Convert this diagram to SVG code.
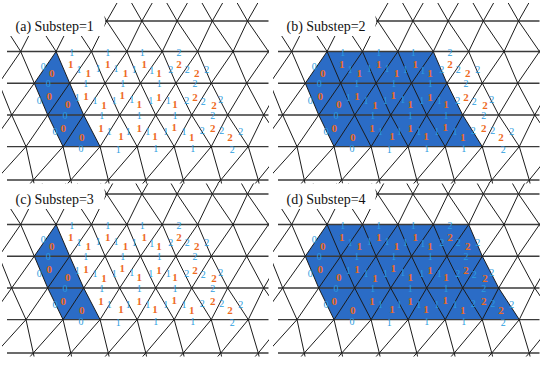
<svg xmlns="http://www.w3.org/2000/svg" xmlns:xlink="http://www.w3.org/1999/xlink" width="550" height="367" viewBox="0 0 550 367">
<style>
.dl{fill:none;stroke:#1c1c1c;stroke-width:1}
.hl{fill:none;stroke:#3a3a3a;stroke-width:1.4}
.fl{fill:#2b6cc6;stroke:none}
.o{font-family:"Liberation Serif","Times New Roman",serif;font-size:11px;font-weight:bold;fill:#ee6a1f;text-anchor:middle}
.b{font-family:"Liberation Serif","Times New Roman",serif;font-size:10px;fill:#2a9de0;text-anchor:middle}
.t{font-family:"Liberation Serif","Times New Roman",serif;font-size:14px;fill:#111}
</style>
<defs>
<clipPath id="clipTop" clipPathUnits="userSpaceOnUse"><rect x="2" y="3" width="267" height="180.5"/></clipPath>
<clipPath id="clipBot" clipPathUnits="userSpaceOnUse"><rect x="2" y="10.5" width="267" height="173"/></clipPath>
<g id="mesh">
<g class="hl">
<line x1="105" y1="21" x2="268.5" y2="21"/>
<line x1="7" y1="51.5" x2="268.5" y2="51.5"/>
<line x1="7" y1="83.2" x2="268.5" y2="83.2"/>
<line x1="7" y1="115" x2="268.5" y2="115"/>
<line x1="7" y1="146.6" x2="268.5" y2="146.6"/>
<line x1="7" y1="180" x2="268.5" y2="180"/>
</g>
<g class="dl">
<polyline points="-46.1,0 -34.1,21 -14.7,51.5 -1.1,83.2 11.7,115 26,146.6 33.3,180 34.6,186"/>
<polyline points="-10.9,0 1.1,21 20.7,51.5 34.3,83.2 47.7,115 63.05,146.6 70.8,180 72.1,186"/>
<polyline points="24.3,0 36.3,21 56.1,51.5 69.7,83.2 83.7,115 100.1,146.6 108.3,180 109.6,186"/>
<polyline points="59.5,0 71.5,21 91.5,51.5 105.1,83.2 119.7,115 137.15,146.6 145.8,180 147.1,186"/>
<polyline points="94.7,0 106.7,21 126.9,51.5 140.5,83.2 155.7,115 174.2,146.6 183.3,180 184.6,186"/>
<polyline points="129.9,0 141.9,21 162.3,51.5 175.9,83.2 191.7,115 211.25,146.6 220.8,180 222.1,186"/>
<polyline points="165.1,0 177.1,21 197.7,51.5 211.3,83.2 227.7,115 248.3,146.6 258.3,180 259.6,186"/>
<polyline points="200.3,0 212.3,21 233.1,51.5 246.7,83.2 263.7,115 285.35,146.6 295.8,180"/>
<polyline points="235.5,0 247.5,21 268.5,51.5 282.1,83.2"/>
<polyline points="48.3,0 36.3,21 20.7,51.5 -1.1,83.2"/>
<polyline points="83.5,0 71.5,21 56.1,51.5 34.3,83.2 11.7,115 -11.05,146.6"/>
<polyline points="118.7,0 106.7,21 91.5,51.5 69.7,83.2 47.7,115 26,146.6 -4.2,180"/>
<polyline points="153.9,0 141.9,21 126.9,51.5 105.1,83.2 83.7,115 63.05,146.6 33.3,180 28,186"/>
<polyline points="189.1,0 177.1,21 162.3,51.5 140.5,83.2 119.7,115 100.1,146.6 70.8,180 65.5,186"/>
<polyline points="224.3,0 212.3,21 197.7,51.5 175.9,83.2 155.7,115 137.15,146.6 108.3,180 103,186"/>
<polyline points="259.5,0 247.5,21 233.1,51.5 211.3,83.2 191.7,115 174.2,146.6 145.8,180 140.5,186"/>
<polyline points="294.7,0 282.7,21 268.5,51.5 246.7,83.2 227.7,115 211.25,146.6 183.3,180 178,186"/>
<polyline points="303.9,51.5 282.1,83.2 263.7,115 248.3,146.6 220.8,180 215.5,186"/>
<polyline points="299.7,115 285.35,146.6 258.3,180 253,186"/>
</g>
<rect x="0" y="0" width="104.5" height="36" fill="#fff"/>
</g>
</defs>
<rect width="550" height="367" fill="#fff"/>

<g id="panel-a">
<polygon class="fl" points="56.1,51.5 34.3,83.2 47.7,115 63.05,146.6 100.1,146.6 83.7,115 69.7,83.2"/>
<g clip-path="url(#clipTop)"><use xlink:href="#mesh"/></g>
<text class="t" x="15.5" y="30.7">(a) Substep=1</text>
<g class="o">
<text x="51.7" y="76.5">0</text><text x="70.7" y="67.8">1</text><text x="88.3" y="76.5">1</text><text x="107.7" y="67.8">1</text><text x="125.5" y="76.8">1</text><text x="144.3" y="67.8">1</text><text x="159" y="76.5">1</text><text x="179" y="68.1">2</text><text x="196.7" y="76.5">2</text>
<text x="49.3" y="99.8">0</text><text x="67.7" y="107.8">0</text><text x="86" y="99.5">1</text><text x="104" y="109.3">1</text><text x="122.3" y="99.1">1</text><text x="139.3" y="107.8">1</text><text x="159" y="100.5">1</text><text x="175" y="107.8">1</text><text x="195" y="100.5">2</text><text x="214" y="108.8">2</text>
<text x="63.3" y="132.1">0</text><text x="81.7" y="140.5">0</text><text x="101" y="132.1">1</text><text x="121" y="140">1</text><text x="139.3" y="131.5">1</text><text x="155" y="139.5">1</text><text x="174.3" y="131.1">1</text><text x="191.7" y="140.5">1</text><text x="212.7" y="131.5">2</text><text x="230" y="140.5">2</text>
</g>
<g class="b">
<text x="71.7" y="55.5">1</text><text x="107.7" y="55.5">1</text><text x="142.3" y="55.5">1</text><text x="179" y="55.5">2</text>
<text x="43.3" y="70.2">0</text><text x="79" y="72.5">1</text><text x="98.3" y="71.8">1</text><text x="116" y="71.8">1</text><text x="134.3" y="72.5">1</text><text x="151.7" y="73.5">1</text><text x="170.7" y="72.5">2</text><text x="187.3" y="72.8">2</text><text x="206.7" y="72.8">2</text>
<text x="48.3" y="86.8">0</text><text x="85.7" y="86.8">1</text><text x="122.7" y="86.8">1</text><text x="159.3" y="86.8">1</text><text x="195" y="86.8">2</text>
<text x="39.3" y="103.5">0</text><text x="77.3" y="101.2">1</text><text x="95" y="103.5">1</text><text x="114.3" y="103.5">1</text><text x="131.7" y="103">1</text><text x="150.7" y="103.5">1</text><text x="168.3" y="103.5">1</text><text x="186.7" y="103.5">2</text><text x="203.3" y="104.5">2</text><text x="220.7" y="102.5">2</text>
<text x="65" y="118.5">0</text><text x="101.7" y="118.5">1</text><text x="139.3" y="118.5">1</text><text x="175" y="118.5">1</text><text x="212.7" y="118.5">2</text>
<text x="55" y="135.2">0</text><text x="109.3" y="134.5">1</text><text x="128.3" y="134.5">1</text><text x="147.7" y="135.2">1</text><text x="165.7" y="135.2">1</text><text x="184" y="134.5">1</text><text x="202.3" y="133.5">2</text><text x="221.7" y="133.5">2</text><text x="240.7" y="134.5">2</text>
<text x="81" y="152">0</text><text x="118.3" y="152.5">1</text><text x="155.7" y="152">1</text><text x="192.7" y="152">1</text><text x="232.3" y="152.5">2</text>
</g>
</g>

<g id="panel-b" transform="translate(271,0)">
<polygon class="fl" points="56.1,51.5 162.3,51.5 175.9,83.2 191.7,115 211.25,146.6 63.05,146.6 47.7,115 34.3,83.2"/>
<g clip-path="url(#clipTop)"><use xlink:href="#mesh"/></g>
<text class="t" x="15.5" y="30.7">(b) Substep=2</text>
<g class="o">
<text x="51.7" y="76.5">0</text><text x="70.7" y="67.8">1</text><text x="88.3" y="76.5">1</text><text x="107.7" y="67.8">1</text><text x="125.5" y="76.8">1</text><text x="144.3" y="67.8">1</text><text x="159" y="76.5">1</text><text x="179" y="68.1">2</text><text x="196.7" y="76.5">2</text>
<text x="49.3" y="99.8">0</text><text x="67.7" y="107.8">0</text><text x="86" y="99.5">1</text><text x="104" y="109.3">1</text><text x="122.3" y="99.1">1</text><text x="139.3" y="107.8">1</text><text x="159" y="100.5">1</text><text x="175" y="107.8">1</text><text x="195" y="100.5">2</text><text x="214" y="108.8">2</text>
<text x="63.3" y="132.1">0</text><text x="81.7" y="140.5">0</text><text x="101" y="132.1">1</text><text x="121" y="140">1</text><text x="139.3" y="131.5">1</text><text x="155" y="139.5">1</text><text x="174.3" y="131.1">1</text><text x="191.7" y="140.5">1</text><text x="212.7" y="131.5">2</text><text x="230" y="140.5">2</text>
</g>
<g class="b">
<text x="71.7" y="55.5">1</text><text x="107.7" y="55.5">1</text><text x="142.3" y="55.5">1</text><text x="179" y="55.5">2</text>
<text x="43.3" y="70.2">0</text><text x="79" y="72.5">1</text><text x="98.3" y="71.8">1</text><text x="116" y="71.8">1</text><text x="134.3" y="72.5">1</text><text x="151.7" y="73.5">1</text><text x="170.7" y="72.5">2</text><text x="187.3" y="72.8">2</text><text x="206.7" y="72.8">2</text>
<text x="48.3" y="86.8">0</text><text x="85.7" y="86.8">1</text><text x="122.7" y="86.8">1</text><text x="159.3" y="86.8">1</text><text x="195" y="86.8">2</text>
<text x="39.3" y="103.5">0</text><text x="77.3" y="101.2">1</text><text x="95" y="103.5">1</text><text x="114.3" y="103.5">1</text><text x="131.7" y="103">1</text><text x="150.7" y="103.5">1</text><text x="168.3" y="103.5">1</text><text x="186.7" y="103.5">2</text><text x="203.3" y="104.5">2</text><text x="220.7" y="102.5">2</text>
<text x="65" y="118.5">0</text><text x="101.7" y="118.5">1</text><text x="139.3" y="118.5">1</text><text x="175" y="118.5">1</text><text x="212.7" y="118.5">2</text>
<text x="55" y="135.2">0</text><text x="109.3" y="134.5">1</text><text x="128.3" y="134.5">1</text><text x="147.7" y="135.2">1</text><text x="165.7" y="135.2">1</text><text x="184" y="134.5">1</text><text x="202.3" y="133.5">2</text><text x="221.7" y="133.5">2</text><text x="240.7" y="134.5">2</text>
<text x="81" y="152">0</text><text x="118.3" y="152.5">1</text><text x="155.7" y="152">1</text><text x="192.7" y="152">1</text><text x="232.3" y="152.5">2</text>
</g>
</g>

<g id="panel-c" transform="translate(0,173)">
<polygon class="fl" points="56.1,51.5 34.3,83.2 47.7,115 63.05,146.6 100.1,146.6 83.7,115 69.7,83.2"/>
<g clip-path="url(#clipBot)"><use xlink:href="#mesh"/></g>
<text class="t" x="15.5" y="30.7">(c) Substep=3</text>
<g class="o">
<text x="51.7" y="76.5">0</text><text x="70.7" y="67.8">1</text><text x="88.3" y="76.5">1</text><text x="107.7" y="67.8">1</text><text x="125.5" y="76.8">1</text><text x="144.3" y="67.8">1</text><text x="159" y="76.5">1</text><text x="179" y="68.1">2</text><text x="196.7" y="76.5">2</text>
<text x="49.3" y="99.8">0</text><text x="67.7" y="107.8">0</text><text x="86" y="99.5">1</text><text x="104" y="109.3">1</text><text x="122.3" y="99.1">1</text><text x="139.3" y="107.8">1</text><text x="159" y="100.5">1</text><text x="175" y="107.8">1</text><text x="195" y="100.5">2</text><text x="214" y="108.8">2</text>
<text x="63.3" y="132.1">0</text><text x="81.7" y="140.5">0</text><text x="101" y="132.1">1</text><text x="121" y="140">1</text><text x="139.3" y="131.5">1</text><text x="155" y="139.5">1</text><text x="174.3" y="131.1">1</text><text x="191.7" y="140.5">1</text><text x="212.7" y="131.5">2</text><text x="230" y="140.5">2</text>
</g>
<g class="b">
<text x="71.7" y="55.5">1</text><text x="107.7" y="55.5">1</text><text x="142.3" y="55.5">1</text><text x="179" y="55.5">2</text>
<text x="43.3" y="70.2">0</text><text x="79" y="72.5">1</text><text x="98.3" y="71.8">1</text><text x="116" y="71.8">1</text><text x="134.3" y="72.5">1</text><text x="151.7" y="73.5">1</text><text x="170.7" y="72.5">2</text><text x="187.3" y="72.8">2</text><text x="206.7" y="72.8">2</text>
<text x="48.3" y="86.8">0</text><text x="85.7" y="86.8">1</text><text x="122.7" y="86.8">1</text><text x="159.3" y="86.8">1</text><text x="195" y="86.8">2</text>
<text x="39.3" y="103.5">0</text><text x="77.3" y="101.2">1</text><text x="95" y="103.5">1</text><text x="114.3" y="103.5">1</text><text x="131.7" y="103">1</text><text x="150.7" y="103.5">1</text><text x="168.3" y="103.5">1</text><text x="186.7" y="103.5">2</text><text x="203.3" y="104.5">2</text><text x="220.7" y="102.5">2</text>
<text x="65" y="118.5">0</text><text x="101.7" y="118.5">1</text><text x="139.3" y="118.5">1</text><text x="175" y="118.5">1</text><text x="212.7" y="118.5">2</text>
<text x="55" y="135.2">0</text><text x="109.3" y="134.5">1</text><text x="128.3" y="134.5">1</text><text x="147.7" y="135.2">1</text><text x="165.7" y="135.2">1</text><text x="184" y="134.5">1</text><text x="202.3" y="133.5">2</text><text x="221.7" y="133.5">2</text><text x="240.7" y="134.5">2</text>
<text x="81" y="152">0</text><text x="118.3" y="152.5">1</text><text x="155.7" y="152">1</text><text x="192.7" y="152">1</text><text x="232.3" y="152.5">2</text>
</g>
</g>

<g id="panel-d" transform="translate(271,173)">
<polygon class="fl" points="56.1,51.5 197.7,51.5 211.3,83.2 227.7,115 248.3,146.6 63.05,146.6 47.7,115 34.3,83.2"/>
<g clip-path="url(#clipBot)"><use xlink:href="#mesh"/></g>
<text class="t" x="15.5" y="30.7">(d) Substep=4</text>
<g class="o">
<text x="51.7" y="76.5">0</text><text x="70.7" y="67.8">1</text><text x="88.3" y="76.5">1</text><text x="107.7" y="67.8">1</text><text x="125.5" y="76.8">1</text><text x="144.3" y="67.8">1</text><text x="159" y="76.5">1</text><text x="179" y="68.1">2</text><text x="196.7" y="76.5">2</text>
<text x="49.3" y="99.8">0</text><text x="67.7" y="107.8">0</text><text x="86" y="99.5">1</text><text x="104" y="109.3">1</text><text x="122.3" y="99.1">1</text><text x="139.3" y="107.8">1</text><text x="159" y="100.5">1</text><text x="175" y="107.8">1</text><text x="195" y="100.5">2</text><text x="214" y="108.8">2</text>
<text x="63.3" y="132.1">0</text><text x="81.7" y="140.5">0</text><text x="101" y="132.1">1</text><text x="121" y="140">1</text><text x="139.3" y="131.5">1</text><text x="155" y="139.5">1</text><text x="174.3" y="131.1">1</text><text x="191.7" y="140.5">1</text><text x="212.7" y="131.5">2</text><text x="230" y="140.5">2</text>
</g>
<g class="b">
<text x="71.7" y="55.5">1</text><text x="107.7" y="55.5">1</text><text x="142.3" y="55.5">1</text><text x="179" y="55.5">2</text>
<text x="43.3" y="70.2">0</text><text x="79" y="72.5">1</text><text x="98.3" y="71.8">1</text><text x="116" y="71.8">1</text><text x="134.3" y="72.5">1</text><text x="151.7" y="73.5">1</text><text x="170.7" y="72.5">2</text><text x="187.3" y="72.8">2</text><text x="206.7" y="72.8">2</text>
<text x="48.3" y="86.8">0</text><text x="85.7" y="86.8">1</text><text x="122.7" y="86.8">1</text><text x="159.3" y="86.8">1</text><text x="195" y="86.8">2</text>
<text x="39.3" y="103.5">0</text><text x="77.3" y="101.2">1</text><text x="95" y="103.5">1</text><text x="114.3" y="103.5">1</text><text x="131.7" y="103">1</text><text x="150.7" y="103.5">1</text><text x="168.3" y="103.5">1</text><text x="186.7" y="103.5">2</text><text x="203.3" y="104.5">2</text><text x="220.7" y="102.5">2</text>
<text x="65" y="118.5">0</text><text x="101.7" y="118.5">1</text><text x="139.3" y="118.5">1</text><text x="175" y="118.5">1</text><text x="212.7" y="118.5">2</text>
<text x="55" y="135.2">0</text><text x="109.3" y="134.5">1</text><text x="128.3" y="134.5">1</text><text x="147.7" y="135.2">1</text><text x="165.7" y="135.2">1</text><text x="184" y="134.5">1</text><text x="202.3" y="133.5">2</text><text x="221.7" y="133.5">2</text><text x="240.7" y="134.5">2</text>
<text x="81" y="152">0</text><text x="118.3" y="152.5">1</text><text x="155.7" y="152">1</text><text x="192.7" y="152">1</text><text x="232.3" y="152.5">2</text>
</g>
</g>
</svg>
